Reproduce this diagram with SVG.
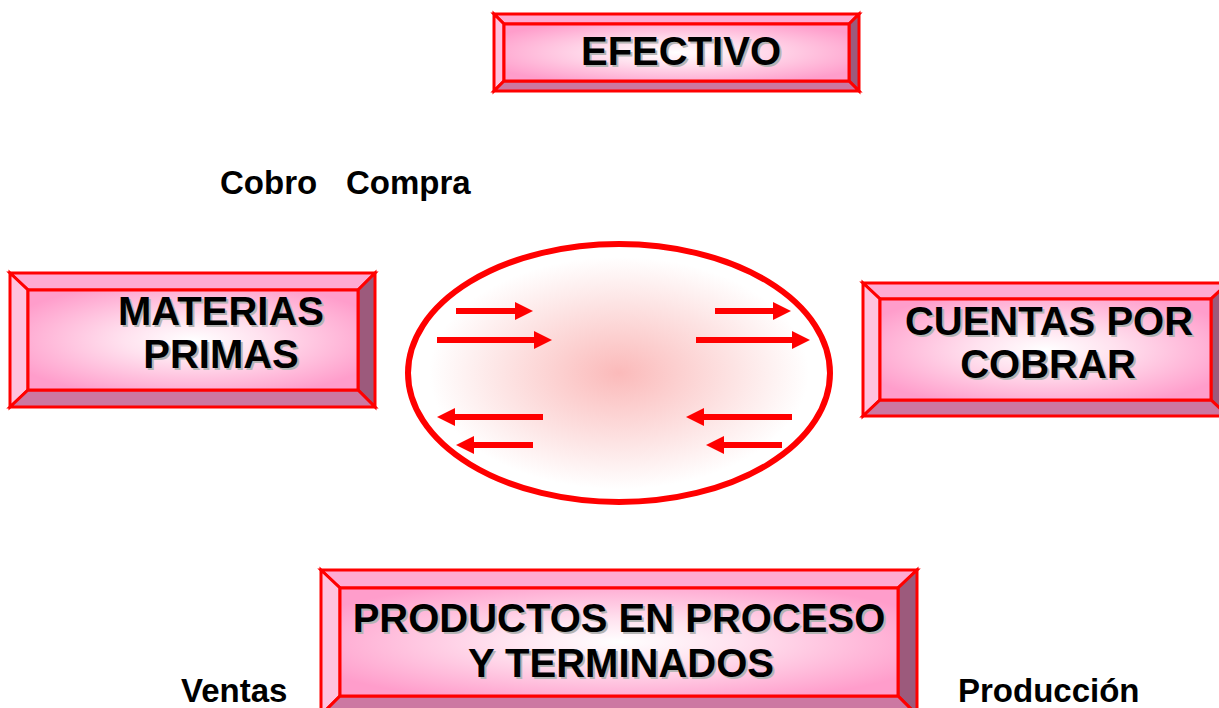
<svg xmlns="http://www.w3.org/2000/svg" width="1219" height="708" viewBox="0 0 1219 708">
<style>
.bt{fill:#ffaad2;stroke:#ff0000;stroke-width:3;stroke-linejoin:miter}
.bl{fill:#ffc2de;stroke:#ff0000;stroke-width:3}
.br{fill:#9c5a7c;stroke:#ff0000;stroke-width:3}
.bb{fill:#cc78a2;stroke:#ff0000;stroke-width:3}
.face{fill:url(#faceGrad);stroke:#ff0000;stroke-width:3}
.t{font-family:"Liberation Sans",Arial,sans-serif;font-weight:bold;font-size:40px;fill:#000;text-anchor:middle}
.sh{fill:#b4b4b4}
.lbl{font-family:"Liberation Sans",Arial,sans-serif;font-weight:bold;font-size:33px;fill:#000}
.arr{stroke:#ff0000;stroke-width:6;fill:none;marker-end:url(#head)}
</style>
<defs>
<radialGradient id="faceGrad" cx="0.5" cy="0.5" r="0.6">
<stop offset="0" stop-color="#ffffff"/>
<stop offset="0.35" stop-color="#ffe2ef"/>
<stop offset="1" stop-color="#ff9dcb"/>
</radialGradient>
<radialGradient id="ellGrad" cx="0.5" cy="0.5" r="0.5">
<stop offset="0" stop-color="#fbbaba"/>
<stop offset="0.55" stop-color="#fde4e4"/>
<stop offset="0.9" stop-color="#ffffff"/>
</radialGradient>
<marker id="head" markerUnits="userSpaceOnUse" markerWidth="18" markerHeight="18" viewBox="0 0 18 18" refX="0" refY="9" orient="auto">
<path d="M0,0 L18,9 L0,18 z" fill="#ff0000"/>
</marker>
</defs>
<rect width="1219" height="708" fill="#ffffff"/>

<g id="ellipse">
<ellipse cx="619" cy="373" rx="211" ry="129" fill="url(#ellGrad)" stroke="#ff0000" stroke-width="6"/>
</g>

<g id="efectivo">
<polygon class="bt" points="494,14 859,14 849,24 504,24"/>
<polygon class="bl" points="494,14 504,24 504,81 494,91"/>
<polygon class="br" points="859,14 859,91 849,81 849,24"/>
<polygon class="bb" points="494,91 504,81 849,81 859,91"/>
<rect class="face" x="504" y="24" width="345" height="57"/>
<text class="t sh" x="683" y="67">EFECTIVO</text>
<text class="t" x="681" y="65">EFECTIVO</text>
</g>

<g id="materias-primas">
<polygon class="bt" points="10,273 375,273 358,290 28,290"/>
<polygon class="bl" points="10,273 28,290 28,390 10,407"/>
<polygon class="br" points="375,273 375,407 358,390 358,290"/>
<polygon class="bb" points="10,407 28,390 358,390 375,407"/>
<rect class="face" x="28" y="290" width="330" height="100"/>
<text class="t sh" x="223" y="327">MATERIAS</text>
<text class="t" x="221" y="325">MATERIAS</text>
<text class="t sh" x="223" y="370">PRIMAS</text>
<text class="t" x="221" y="368">PRIMAS</text>
</g>

<g id="cuentas-por-cobrar">
<polygon class="bt" points="863,283 1228,283 1211,299 880,299"/>
<polygon class="bl" points="863,283 880,299 880,400 863,416"/>
<polygon class="br" points="1228,283 1228,416 1211,400 1211,299"/>
<polygon class="bb" points="863,416 880,400 1211,400 1228,416"/>
<rect class="face" x="880" y="299" width="331" height="101"/>
<text class="t sh" x="1051" y="337">CUENTAS POR</text>
<text class="t" x="1049" y="335">CUENTAS POR</text>
<text class="t sh" x="1050" y="380">COBRAR</text>
<text class="t" x="1048" y="378">COBRAR</text>
</g>

<g id="productos">
<polygon class="bt" points="321,570 917,570 898,588 340,588"/>
<polygon class="bl" points="321,570 340,588 340,696 321,715"/>
<polygon class="br" points="917,570 917,715 898,696 898,588"/>
<polygon class="bb" points="321,715 340,696 898,696 917,715"/>
<rect class="face" x="340" y="588" width="558" height="108"/>
<text class="t sh" x="621" y="634">PRODUCTOS EN PROCESO</text>
<text class="t" x="619" y="632">PRODUCTOS EN PROCESO</text>
<text class="t sh" x="623" y="679">Y TERMINADOS</text>
<text class="t" x="621" y="677">Y TERMINADOS</text>
</g>

<g id="connectors">
<line class="arr" x1="456" y1="311" x2="515" y2="311"/>
<line class="arr" x1="437" y1="340" x2="534" y2="340"/>
<line class="arr" x1="715" y1="311" x2="773" y2="311"/>
<line class="arr" x1="696" y1="340" x2="792" y2="340"/>
<line class="arr" x1="543" y1="417" x2="455" y2="417"/>
<line class="arr" x1="533" y1="445" x2="474" y2="445"/>
<line class="arr" x1="792" y1="417" x2="704" y2="417"/>
<line class="arr" x1="782" y1="445" x2="724" y2="445"/>
</g>

<g id="labels">
<text class="lbl" x="220" y="194">Cobro</text>
<text class="lbl" x="346" y="194">Compra</text>
<text class="lbl" x="181" y="702">Ventas</text>
<text class="lbl" x="958" y="702">Producción</text>
</g>
</svg>
